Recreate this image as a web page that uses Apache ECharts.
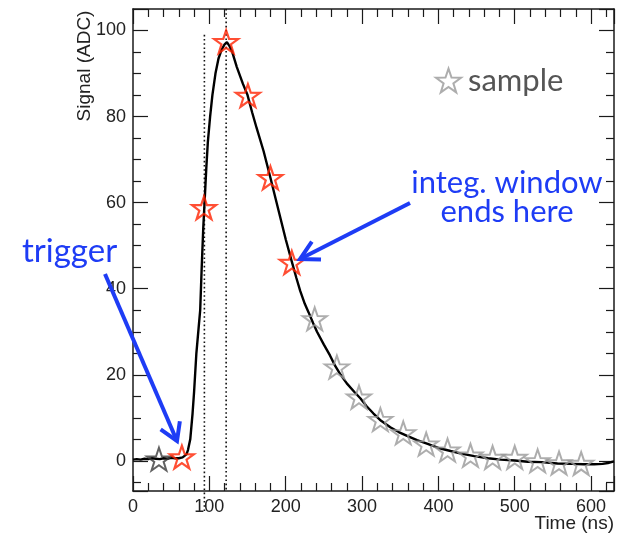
<!DOCTYPE html>
<html><head><meta charset="utf-8">
<script src="https://cdn.jsdelivr.net/npm/echarts@6/dist/echarts.min.js"></script>
<style>html,body{margin:0;padding:0;background:#fff}#c{width:624px;height:534px}</style>
</head><body><div id="c"></div>
<script>
// ---- data ----
const curveT = [0,5,10,15,20,25,30,35,40,45,50,55,60,65,70,72,75,78,80,83,86,88,90,92,94,96,98,101,104,108,112,116,120,123,126,130,136,144,150,156,162,171,180,186,193,200,208,214,219,225,230,236,241,250,258,265,272,280,290,298,306,315,325,337,348,359,372,385,400,416,430,447,465,482,500,517,535,556,575,590,604,615,622,630];
const curveY = [0.3,0.4,0.3,0.5,0.4,0.6,0.5,0.4,0.6,0.5,0.7,0.6,0.6,0.8,1.5,2.5,5,11,16,25,31,35,45,54,61,68,74,80,85,90,93.5,95.5,96.8,97.3,96.5,95,91.5,87.6,85,81,77.3,72,65.8,61.5,56.5,51.5,46.3,42.5,39.5,36.5,34.5,32,30,27,24.5,22,20,18,16,14.5,12.7,11,9.3,7.8,6.7,5.8,4.8,4,3,2.3,1.7,1.1,0.6,0.3,0.1,-0.2,-0.3,-0.6,-0.7,-0.8,-0.8,-0.7,-0.5,-0.1];
const windowT = [64, 93, 122, 150.5, 180, 208];
const windowY = [0.9, 58.8, 97.4, 84.9, 65.8, 46.1];
const sampleT = [34, 238, 267, 296, 324, 354, 384, 412, 442, 471, 500, 530, 558, 587];
const sampleY = [0.4, 33, 21.8, 14.8, 9.6, 6.5, 3.9, 2.5, 1.3, 0.8, 0.8, 0.0, -0.5, -0.6];
const markerLineT = [93.5, 122];
const markerLineTop = [99, 105];
const markerLineBottom = [-12, -7];
const xRange = [0, 630];
const yRange = [-7, 105];
const xTitle = 'Time (ns)';
const yTitle = 'Signal (ADC)';
const legendLabel = 'sample';

// ---- style ----
const BLUE = '#1e3cf5';
const RED = '#ff2200';
const GRAY = '#999999';
const AX = '#1a1a1a';
const SANS = '"Liberation Sans", Arial, sans-serif';
const HUM = 'Lato, "Open Sans", sans-serif';

function starPath() {
  let p = '';
  for (let k = 0; k < 10; k++) {
    const a = -Math.PI / 2 + k * Math.PI / 5;
    const r = k % 2 ? 3.9 : 10;
    p += (k ? 'L' : 'M') + (10 + r * Math.cos(a)).toFixed(3) + ',' + (10 + r * Math.sin(a)).toFixed(3);
  }
  return 'path://' + p + 'Z';
}
const STAR = starPath();

function axisCommon(showLabels, pos, minorSplit) {
  return {
    position: pos,
    axisLine: { show: true, onZero: false, lineStyle: { color: AX, width: 1.5 } },
    axisTick: { show: true, inside: true, length: 15, lineStyle: { color: AX, width: 1.2 } },
    minorTick: { show: true, splitNumber: minorSplit, length: 8, lineStyle: { color: AX, width: 1.2 } },
    splitLine: { show: false },
    axisLabel: { show: showLabels, showMinLabel: true, showMaxLabel: false, color: '#222', fontFamily: SANS, fontSize: 18, margin: 7 }
  };
}

const xBase = { type: 'value', min: xRange[0], max: xRange[1], interval: 100 };
const yBase = { type: 'value', min: yRange[0], max: yRange[1], splitNumber: 5 };

const xAxes = [
  Object.assign({}, xBase, axisCommon(true, 'bottom', 5)),
  Object.assign({}, xBase, axisCommon(false, 'top', 5))
];
const yAxes = [
  Object.assign({}, yBase, axisCommon(true, 'left', 4)),
  Object.assign({}, yBase, axisCommon(false, 'right', 4))
];
yAxes[0].axisLabel.showMinLabel = false;

function arrow(tail, tip, len, ang) {
  const dx = tail[0] - tip[0], dy = tail[1] - tip[1];
  const th = Math.atan2(dy, dx);
  const p1 = [tip[0] + len * Math.cos(th + ang), tip[1] + len * Math.sin(th + ang)];
  const p2 = [tip[0] + len * Math.cos(th - ang), tip[1] + len * Math.sin(th - ang)];
  return [
    { type: 'line', z: 100, shape: { x1: tail[0], y1: tail[1], x2: tip[0], y2: tip[1] }, style: { stroke: BLUE, lineWidth: 4 } },
    { type: 'polyline', z: 100, shape: { points: [p1, tip, p2] }, style: { stroke: BLUE, lineWidth: 4, fill: null, lineJoin: 'miter' } }
  ];
}

const chart = echarts.init(document.getElementById('c'), null, { renderer: 'canvas' });
chart.setOption({
  animation: false,
  backgroundColor: '#fff',
  grid: { left: 133, right: 10, top: 9, bottom: 43, containLabel: false },
  xAxis: xAxes,
  yAxis: yAxes,
  legend: {
    data: [legendLabel],
    left: 430, top: 60,
    itemWidth: 25, itemHeight: 25,
    icon: STAR,
    textStyle: { fontFamily: HUM, fontSize: 31, color: '#555', padding: [0, 0, 0, 2] },
    selectedMode: false
  },
  series: [
    {
      type: 'custom', name: 'marks', clip: false, silent: true, z: 1,
      data: markerLineT.map((t, i) => [t, markerLineTop[i], markerLineBottom[i]]),
      renderItem: (params, api) => {
        const a = api.coord([api.value(0), api.value(1)]);
        const b = api.coord([api.value(0), api.value(2)]);
        return { type: 'line', shape: { x1: a[0], y1: a[1], x2: b[0], y2: b[1] }, style: { stroke: '#111', lineWidth: 1.6, lineDash: [1.6, 2.6] } };
      }
    },
    {
      type: 'line', name: 'signal', z: 2,
      data: curveT.map((t, i) => [t, curveY[i]]),
      showSymbol: false, symbol: 'none',
      lineStyle: { color: '#000', width: 2.4 }
    },
    {
      type: 'scatter', name: legendLabel, z: 3,
      symbol: STAR, symbolSize: 24, symbolKeepAspect: true,
      itemStyle: { color: 'rgba(0,0,0,0)', borderColor: GRAY, borderWidth: 2 },
      data: sampleT.map((t, i) => i === 0
        ? { value: [t, sampleY[i]], itemStyle: { borderColor: '#3a3a3a' } }
        : [t, sampleY[i]])
    },
    {
      type: 'scatter', name: 'window', z: 4,
      symbol: STAR, symbolSize: 24, symbolKeepAspect: true,
      itemStyle: { color: 'rgba(0,0,0,0)', borderColor: RED, borderWidth: 2.2 },
      data: windowT.map((t, i) => [t, windowY[i]])
    }
  ],
  graphic: [
    { type: 'text', rotation: Math.PI / 2, x: 85, y: 66, style: { text: yTitle, font: '19px ' + SANS, fill: '#222', align: 'center', verticalAlign: 'middle' } },
    { type: 'text', x: 614, y: 524, style: { text: xTitle, font: '19px ' + SANS, fill: '#222', align: 'right', verticalAlign: 'middle' } },
    { type: 'text', x: 22, y: 251, z: 100, style: { text: 'trigger', font: '33px ' + HUM, fill: BLUE, align: 'left', verticalAlign: 'middle' } },
    { type: 'text', x: 507, y: 183, z: 100, style: { text: 'integ. window', font: '31px ' + HUM, fill: BLUE, align: 'center', verticalAlign: 'middle' } },
    { type: 'text', x: 507, y: 212, z: 100, style: { text: 'ends here', font: '31px ' + HUM, fill: BLUE, align: 'center', verticalAlign: 'middle' } }
  ].concat(arrow([105, 274], [177, 441], 20, 0.55)).concat(arrow([410, 203], [300, 259], 21, 0.5))
});
</script>
</body></html>
